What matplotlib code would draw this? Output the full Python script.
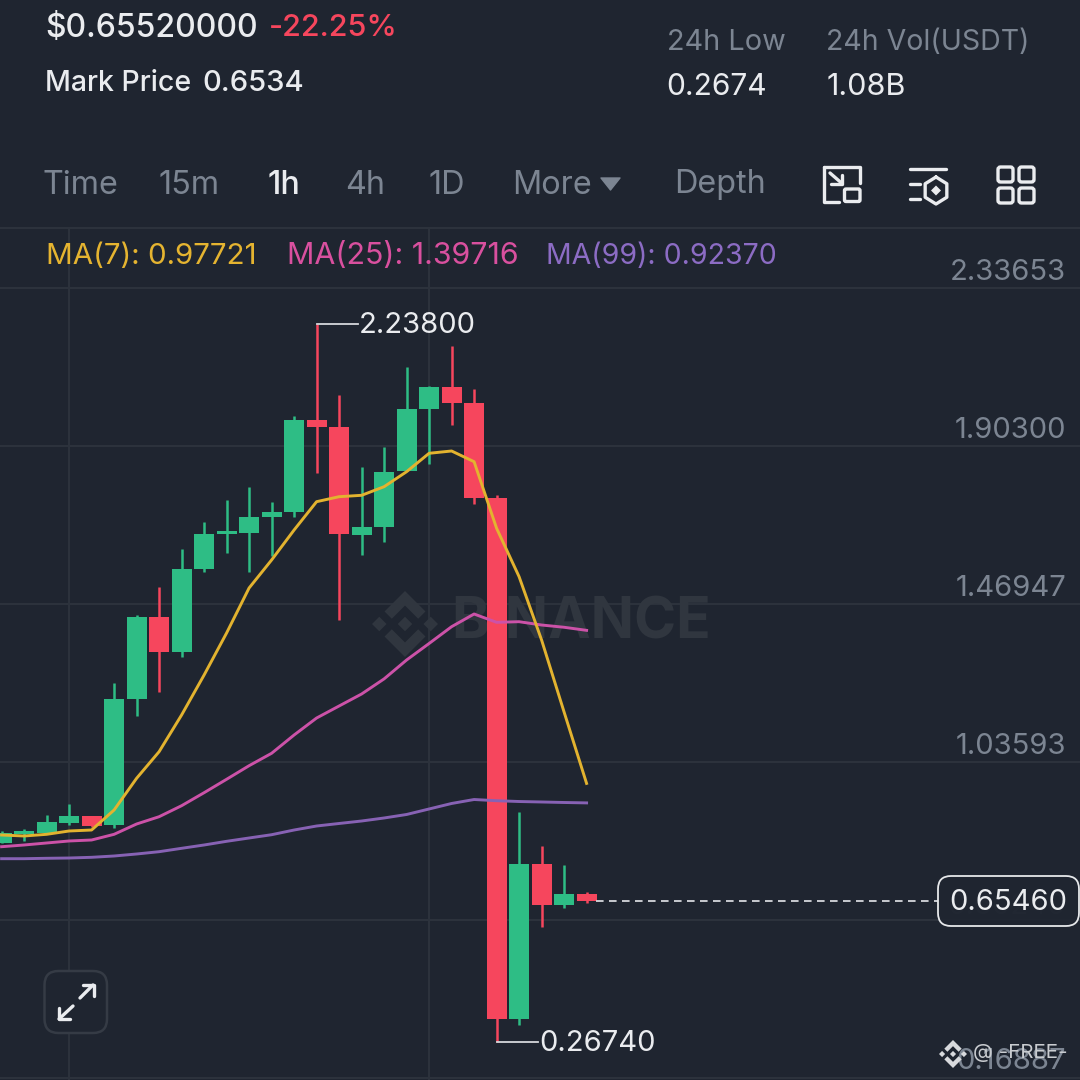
import matplotlib
matplotlib.use("Agg")
import matplotlib.pyplot as plt
import numpy as np
from matplotlib.patches import Polygon, FancyBboxPatch
from matplotlib.lines import Line2D
from matplotlib.transforms import Affine2D

# ---- data (prices) ----
opens  = [0.8137,0.8370,0.8411,0.8694,0.8886,0.8622,1.2080,1.4330,1.3369,1.5663,1.6615,1.6634,1.7073,1.7211,1.9752,1.9543,1.6596,1.6807,1.8336,2.0045,2.0649,2.0210,1.7611,0.3307,0.7569,0.6435,0.6745]
closes = [0.8411,0.8466,0.8705,0.8886,0.8611,1.2080,1.4330,1.3369,1.5655,1.6615,1.6689,1.7082,1.7211,1.9752,1.9543,1.6607,1.6807,1.8325,2.0037,2.0649,2.0210,1.7611,0.3307,0.7569,0.6435,0.6745,0.6546]
highs  = [0.8466,0.8521,0.8897,0.9207,0.8886,1.2535,1.4393,1.5161,1.6196,1.6953,1.7548,1.7897,1.7485,1.9845,2.2380,2.0429,1.8462,1.8994,2.1189,2.0668,2.1774,2.0586,1.7677,0.8996,0.8054,0.7533,0.6800]
lows   = [0.8137,0.8192,0.8411,0.8631,0.8576,0.8556,1.1630,1.2288,1.3240,1.5581,1.6086,1.5564,1.6020,1.7073,1.8281,1.4256,1.6039,1.6404,1.8336,1.8528,1.9606,1.7447,0.2674,0.3143,0.5823,0.6361,0.6498]
ma7  = [0.8356,0.8329,0.8375,0.8466,0.8493,0.9042,0.9912,1.0642,1.1649,1.2746,1.3899,1.5134,1.5902,1.6725,1.7502,1.7639,1.7677,1.7913,1.8325,1.8830,1.8893,1.8599,1.6772,1.5444,1.3707,1.1731,0.97721]
ma25 = [0.8035,0.8082,0.8137,0.8192,0.8219,0.8375,0.8658,0.8858,0.9160,0.9517,0.9885,1.0258,1.0598,1.1100,1.1566,1.1896,1.2225,1.2640,1.3158,1.3611,1.4072,1.4420,1.4192,1.4209,1.4118,1.4056,1.39716]
ma99 = [0.7706,0.7706,0.7717,0.7725,0.7744,0.7780,0.7835,0.7898,0.7991,0.8082,0.8183,0.8274,0.8364,0.8493,0.8603,0.8672,0.8740,0.8823,0.8919,0.9070,0.9221,0.9330,0.9297,0.9275,0.9262,0.9248,0.92370]
grid_prices = [2.33653,1.90300,1.46947,1.03593,0.60240,0.16887]
grid_labels = ["2.33653","1.90300","1.46947","1.03593","","0.16887"]
last_price = 0.6546
high_price, low_price = 2.238, 0.2674
tabs = ["Time","15m","1h","4h","1D","More","Depth"]

BG="#1F2530"; GRID="#2C323C"; GREEN="#2EBD85"; RED="#F6465D"; GREY="#7C8592"; WHITE="#EAECEF"
MARK="#30363F"
YEL="#E3B32F"; PINK="#CC52A8"; PUR="#8762B4"
YEL_T="#E5B430"; PINK_T="#D9509F"; PUR_T="#8C6CC4"

plt.rcParams['font.family']=['Inter','DejaVu Sans']
fig=plt.figure(figsize=(10.8,10.8),dpi=100,facecolor=BG)
ax=fig.add_axes([0,0,1,1],facecolor=BG)
ax.set_axis_off()
T=Affine2D().scale(1/1080,-1/1080).translate(0,1)+fig.transFigure

def L(xs,ys,color=WHITE,lw=2.2,z=9,**k):
    ax.add_line(Line2D(xs,ys,transform=T,color=color,lw=lw,zorder=z,solid_capstyle='round',solid_joinstyle='round',clip_on=False,**k))
def txt(x,y,s,size,color=WHITE,weight='normal',ha='left',z=10,**k):
    ax.text(x,y+2.5,s,transform=T,fontsize=size,color=color,fontweight=weight,ha=ha,va='center',zorder=z,**k)
def rbox(x0,y0,x1,y1,r,ec,fc='none',lw=2.0,z=9):
    ax.add_patch(FancyBboxPatch((x0+r,y0+r),x1-x0-2*r,y1-y0-2*r,boxstyle=f"round,pad={r},rounding_size={r}",
                 transform=T,ec=ec,fc=fc,lw=lw,zorder=z,clip_on=False))
def logo(cx,cy,s,color,z):
    d=lambda x,y,r: ax.add_patch(Polygon([(cx+x*s,cy+(y-r)*s),(cx+(x+r)*s,cy+y*s),(cx+x*s,cy+(y+r)*s),(cx+(x-r)*s,cy+y*s)],transform=T,fc=color,ec='none',zorder=z,clip_on=False))
    d(0,0,.22); d(-.78,0,.22); d(.78,0,.22)
    for sg in (-1,1):
        ax.add_patch(Polygon([(cx,cy+sg*1.0*s),(cx+.62*s,cy+sg*.38*s),(cx+.40*s,cy+sg*.16*s),(cx,cy+sg*.56*s),
                              (cx-.40*s,cy+sg*.16*s),(cx-.62*s,cy+sg*.38*s)],transform=T,fc=color,ec='none',zorder=z,clip_on=False))

# ---- price chart ----
idx=np.arange(len(opens))
ax.set_xlim(-0.0711,47.93); ax.set_ylim(0.16336,3.12677); ax.autoscale(False)
for p in grid_prices:
    ax.axhline(p,color=GRID,lw=1.5,zorder=1)
L([68.5,68.5],[228,1080],GRID,1.5,1); L([429,429],[228,1080],GRID,1.5,1)
L([0,1080],[228,228],GRID,1.5,1)

logo(405,624,33,MARK,2)
txt(451,621,"BINANCE",41,MARK,'bold',z=2)

o,c,h,l=map(np.array,(opens,closes,highs,lows))
cols=[GREEN if a>=b else RED for a,b in zip(closes,opens)]
ax.vlines(idx,l,h,colors=cols,lw=1.8,zorder=3)
ax.bar(idx,np.maximum(np.abs(c-o),0.004),bottom=np.minimum(o,c),width=0.885,color=cols,zorder=3,linewidth=0)
ax.plot(idx,ma99,color=PUR,lw=2.1,zorder=4,solid_joinstyle='round')
ax.plot(idx,ma25,color=PINK,lw=2.1,zorder=4,solid_joinstyle='round')
ax.plot(idx,ma7,color=YEL,lw=2.1,zorder=4,solid_joinstyle='round')

ax.plot([26.4,41.6],[last_price,last_price],color="#D5D8DC",lw=1.3,dashes=(4.2,3),zorder=5)
ax.plot([14,15.84],[high_price,high_price],color="#D5D8DC",lw=1.3,zorder=5)
ax.plot([22,23.84],[low_price,low_price],color="#D5D8DC",lw=1.3,zorder=5)
txt(359,323,f"{high_price:.5f}",21,WHITE)
txt(539,1041,f"{low_price:.5f}",21,WHITE)

# axis labels
for y,s in zip([270,428,586,744,1059],[g for g in grid_labels if g]):
    txt(1066,y,s,21,GREY,ha='right',z=2)
txt(1066,904,"0.60240",21,"#39404A",ha='right',z=2)
rbox(938,876,1079,926,13,"#E6E8EA",fc=BG+"E6",lw=1.3,z=6)
txt(1008,900,"0.65460",21,WHITE,ha='center',z=7)

# footer watermark
logo(953,1054,14,"#D8DADD",8)
txt(973,1051,"@ -FREE-",14.8,"#C9CCD0",z=8)

# header
txt(45,26,"$0.65520000",23,WHITE,'medium')
txt(269,26,"-22.25%",22,RED,'medium')
txt(45,81,"Mark Price",20.5,WHITE,'medium')
txt(202,81,"0.6534",21,WHITE,'medium')
txt(667,39.5,"24h Low",20.8,GREY)
txt(666,84.5,"0.2674",21.6,WHITE)
txt(826,39.5,"24h Vol(USDT)",20.5,GREY)
txt(827,84.5,"1.08B",22,WHITE)

for x,s in zip([42,159,268,345,428,512,674],tabs):
    b=s=="1h"
    txt(x,182.5,s,23.3,WHITE if b else GREY,'medium' if b else 'normal')
ax.add_patch(Polygon([(601,178),(620,178),(610.5,190)],transform=T,fc=GREY,ec=GREY,lw=1,joinstyle='round',zorder=9,clip_on=False))

txt(46,253.5,"MA(7): 0.97721",21.3,YEL_T)
txt(287,253.5,"MA(25): 1.39716",21.9,PINK_T)
txt(546,253.5,"MA(99): 0.92370",20.5,PUR_T)

# toolbar icons
IC="#EAECEF"
L([839,823.5,823.5],[201.5,201.5,167],IC,2.4)
L([823.5,860,860],[167,167,183],IC,2.4)
rbox(844.5,189,860,201.5,1.5,IC,lw=2.4)
L([830,841.5],[173,183],IC,2.4); L([841.5,841.5,831],[175,183.5,183.5],IC,2.4)
L([910,946],[169,169],IC,2.4)
L([910,920],[184,184],IC,2.4); L([910,920],[199,199],IC,2.4)
ang=np.deg2rad(np.arange(-90,271,60))
L(936+12.5*np.cos(ang),190.5+13.5*np.sin(ang),IC,2.4)
ax.add_patch(Polygon([(936,185.5),(941,190.5),(936,195.5),(931,190.5)],transform=T,fc=IC,ec='none',zorder=9,clip_on=False))
for x0,y0 in [(998,167),(1019,167),(998,188),(1019,188)]:
    rbox(x0,y0,x0+15,y0+15,2.5,IC,lw=2.4)

# expand button
rbox(44.5,971,107,1033,14,"#353B45",fc=BG,lw=1.8,z=8)
L([80,93],[998,985],IC,2.4); L([83,93.5,93.5],[984.5,984.5,996],IC,2.4)
L([73,59],[1006,1019],IC,2.4); L([59,59,70],[1008,1019,1019],IC,2.4)

fig.savefig("out.png",dpi=100,facecolor=BG)
